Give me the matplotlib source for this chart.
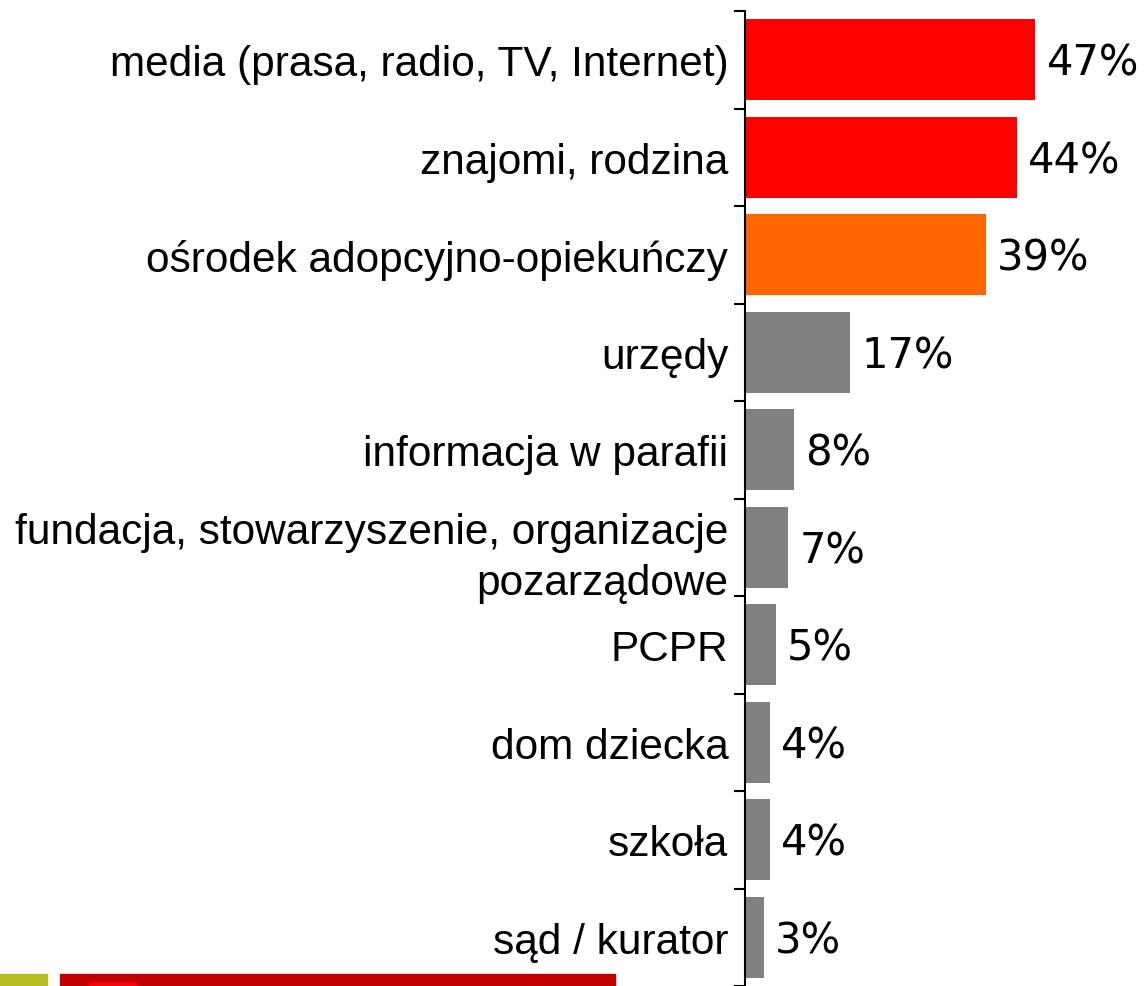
import numpy as np
import matplotlib
matplotlib.use("Agg")
import matplotlib.pyplot as plt
from matplotlib.patches import Rectangle

categories = [
    "media (prasa, radio, TV, Internet)",
    "znajomi, rodzina",
    "ośrodek adopcyjno-opiekuńczy",
    "urzędy",
    "informacja w parafii",
    "fundacja, stowarzyszenie, organizacje\npozarządowe",
    "PCPR",
    "dom dziecka",
    "szkoła",
    "sąd / kurator",
]
values = [47, 44, 39, 17, 8, 7, 5, 4, 4, 3]
colors = ["#FF0000", "#FF0000", "#FF6600"] + ["#808080"] * 7

fig = plt.figure(figsize=(11.44, 9.87), dpi=100)
ax = fig.add_axes([745 / 1144, 0.0, 1 - 745 / 1144, 975 / 987])

y = np.arange(len(categories))
ax.barh(y, values, height=0.83, color=colors)
ax.set_ylim(len(categories) - 0.5, -0.5)
ax.set_xlim(0, 399 / 6.18)

for yi, v in zip(y, values):
    ax.text(v + 1.8, yi + 0.03, f"{v}%", va="center", ha="left",
            fontsize=30, family="DejaVu Sans")

ax.set_yticks(y)
ax.set_yticklabels(categories, family="Liberation Sans", fontsize=30.5,
                   linespacing=1.35)
ax.tick_params(axis="y", which="major", length=0, pad=12)
ax.set_yticks(np.arange(-0.5, len(categories), 1.0), minor=True)
ax.tick_params(axis="y", which="minor", length=8, width=1.5, direction="out")
for lbl in ax.get_yticklabels():
    lbl.set_multialignment("right")
ax.set_xticks([])
for s in ["top", "right", "bottom"]:
    ax.spines[s].set_visible(False)
ax.spines["left"].set_linewidth(1.5)

# decorative strips at the bottom
fig.patches.append(Rectangle((0, 0), 47 / 1144, 12 / 987, transform=fig.transFigure,
                             color="#B5BE22", zorder=5))
fig.patches.append(Rectangle((60 / 1144, 0), 555 / 1144, 12 / 987, transform=fig.transFigure,
                             color="#C00000", zorder=5))
fig.patches.append(Rectangle((89 / 1144, 0), 47 / 1144, 3 / 987, transform=fig.transFigure,
                             color="#FF0000", zorder=6))

fig.savefig("out.png", dpi=100)
